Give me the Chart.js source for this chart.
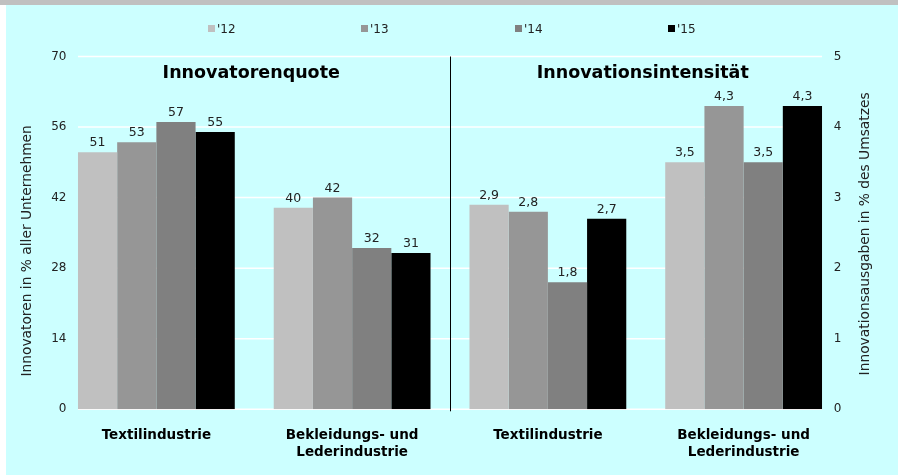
<!DOCTYPE html>
<html>
<head>
<meta charset="utf-8">
<title>Innovatorenquote und Innovationsintensität</title>
<script src="https://cdn.jsdelivr.net/npm/chart.js@4.4.0/dist/chart.umd.min.js"></script>
<style>
  html, body { margin: 0; padding: 0; background: #ffffff; }
  canvas { display: block; }
</style>
</head>
<body>
<canvas id="chart" width="898" height="475"></canvas>
<script>
// categories (two panels, two industries each)
const categories = [['Textilindustrie'], ['Bekleidungs- und', 'Lederindustrie'], ['Textilindustrie'], ['Bekleidungs- und', 'Lederindustrie']];
const years = ["'12", "'13", "'14", "'15"];
const yearColors = ['#c0c0c0', '#969696', '#808080', '#000000'];

// Innovatorenquote, % aller Unternehmen ('12..'15)
const quoteTextil = [51, 53, 57, 55];
const quoteBekleidung = [40, 42, 32, 31];
// Innovationsintensität, % des Umsatzes ('12..'15)
const intensTextil = [2.9, 2.8, 1.8, 2.7];
const intensBekleidung = [3.5, 4.3, 3.5, 4.3];

const leftTicks = [0, 14, 28, 42, 56, 70];
const rightTicks = [0, 1, 2, 3, 4, 5];
const panelTitles = ['Innovatorenquote', 'Innovationsintensität'];
const leftAxisTitle = 'Innovatoren in % aller Unternehmen';
const rightAxisTitle = 'Innovationsausgaben in % des Umsatzes';

const FONT = "'DejaVu Sans', Verdana, sans-serif";
const TEXT = '#222222';

const fmtRight = v => v.toFixed(1).replace('.', ',');

const datasets = [];
years.forEach((yr, i) => {
    datasets.push({
        label: yr,
        data: [quoteTextil[i], quoteBekleidung[i], null, null],
        yAxisID: 'y',
        backgroundColor: yearColors[i]
    });
});
years.forEach((yr, i) => {
    datasets.push({
        label: yr,
        data: [null, null, intensTextil[i], intensBekleidung[i]],
        yAxisID: 'y2',
        backgroundColor: yearColors[i]
    });
});

// rotated axis title, reading bottom to top
function verticalText(ctx, text, x, y) {
    ctx.save();
    ctx.translate(x, y);
    ctx.rotate(-Math.PI / 2);
    ctx.textAlign = 'center';
    ctx.textBaseline = 'middle';
    ctx.fillText(text, 0, 0);
    ctx.restore();
}

const decor = {
    id: 'decor',
    beforeDraw(chart) {
        const { ctx, width, height } = chart;
        ctx.save();
        ctx.fillStyle = '#ffffff';
        ctx.fillRect(0, 0, width, height);
        ctx.fillStyle = '#ccffff';
        ctx.fillRect(6, 5, width - 6, height - 5);
        ctx.fillStyle = '#c0c0c0';
        ctx.fillRect(0, 0, width, 5);
        ctx.restore();
    },
    beforeDatasetsDraw(chart) {
        const { ctx, chartArea, scales } = chart;
        const first = chart.getDatasetMeta(0).data[0];
        const last = chart.getDatasetMeta(datasets.length - 1).data[3];
        const x0 = first.x - first.width / 2;
        const x1 = last.x + last.width / 2;
        ctx.save();
        // grid lines
        ctx.strokeStyle = '#ffffff';
        ctx.lineWidth = 1.5;
        leftTicks.forEach(v => {
            const y = scales.y.getPixelForValue(v);
            ctx.beginPath();
            ctx.moveTo(x0, y);
            ctx.lineTo(x1, y);
            ctx.stroke();
        });
        // divider between the two panels
        const xm = Math.round((scales.x.getPixelForValue(1) + scales.x.getPixelForValue(2)) / 2) + 0.5;
        ctx.strokeStyle = '#000000';
        ctx.lineWidth = 1;
        ctx.beginPath();
        ctx.moveTo(xm, chartArea.top);
        ctx.lineTo(xm, chartArea.bottom + 2);
        ctx.stroke();
        ctx.restore();
    },
    afterDatasetsDraw(chart) {
        const { ctx, chartArea, scales } = chart;
        ctx.save();
        // value labels
        ctx.fillStyle = TEXT;
        ctx.font = '12.5px ' + FONT;
        ctx.textAlign = 'center';
        ctx.textBaseline = 'alphabetic';
        chart.data.datasets.forEach((ds, di) => {
            const meta = chart.getDatasetMeta(di);
            ds.data.forEach((v, j) => {
                if (v === null) return;
                const bar = meta.data[j];
                const txt = ds.yAxisID === 'y2' ? fmtRight(v) : String(v);
                ctx.fillText(txt, bar.x, bar.y - 6);
            });
        });
        // panel titles
        ctx.font = 'bold 17.5px ' + FONT;
        ctx.fillStyle = '#000000';
        const cx = i => scales.x.getPixelForValue(i);
        ctx.fillText(panelTitles[0], (cx(0) + cx(1)) / 2 - 3, 78);
        ctx.fillText(panelTitles[1], (cx(2) + cx(3)) / 2 - 3, 78);
        // legend
        ctx.font = '12px ' + FONT;
        ctx.textAlign = 'left';
        const mid = (chartArea.left + chartArea.right) / 2;
        years.forEach((yr, i) => {
            const bx = Math.round(mid + (i - 1.5) * 153.3 - 12);
            ctx.fillStyle = yearColors[i];
            ctx.fillRect(bx, 25, 7, 7);
            ctx.fillStyle = TEXT;
            ctx.fillText(yr, bx + 9, 33);
        });
        // axis titles
        ctx.font = '13.8px ' + FONT;
        ctx.fillStyle = TEXT;
        const midY = (chartArea.top + chartArea.bottom) / 2;
        verticalText(ctx, leftAxisTitle, 27.5, midY + 18);
        verticalText(ctx, rightAxisTitle, 865, midY + 1);
        ctx.restore();
    }
};

new Chart(document.getElementById('chart'), {
    type: 'bar',
    data: { labels: categories, datasets },
    options: {
        responsive: false,
        animation: false,
        layout: { padding: { top: 56.5, left: 0, right: 0, bottom: 0 } },
        datasets: {
            bar: { skipNull: true, categoryPercentage: 0.801, barPercentage: 1 }
        },
        plugins: {
            legend: { display: false },
            tooltip: { enabled: false }
        },
        scales: {
            x: {
                grid: { display: false },
                border: { display: false },
                ticks: { color: '#000000', font: { family: FONT, size: 13.5, weight: 'bold', lineHeight: 1.27 }, padding: 9.5, maxRotation: 0 },
                afterFit: s => { s.height = 65.7; }
            },
            y: {
                position: 'left',
                min: 0, max: 70,
                afterBuildTicks: s => { s.ticks = leftTicks.map(v => ({ value: v })); },
                grid: { display: false, drawTicks: false },
                border: { display: false },
                // mirrored so the labels may sit a little inside the plot box, right-aligned
                ticks: { color: TEXT, font: { family: FONT, size: 12 }, mirror: true, crossAlign: 'far', padding: -7.3 },
                afterFit: s => { s.width = 58.5; }
            },
            y2: {
                position: 'right',
                min: 0, max: 5,
                afterBuildTicks: s => { s.ticks = rightTicks.map(v => ({ value: v })); },
                grid: { display: false, drawTicks: false },
                border: { display: false },
                ticks: { color: TEXT, font: { family: FONT, size: 12 }, mirror: true, crossAlign: 'far', padding: 0 },
                afterFit: s => { s.width = 56.5; }
            }
        }
    },
    plugins: [decor]
});
</script>
</body>
</html>
